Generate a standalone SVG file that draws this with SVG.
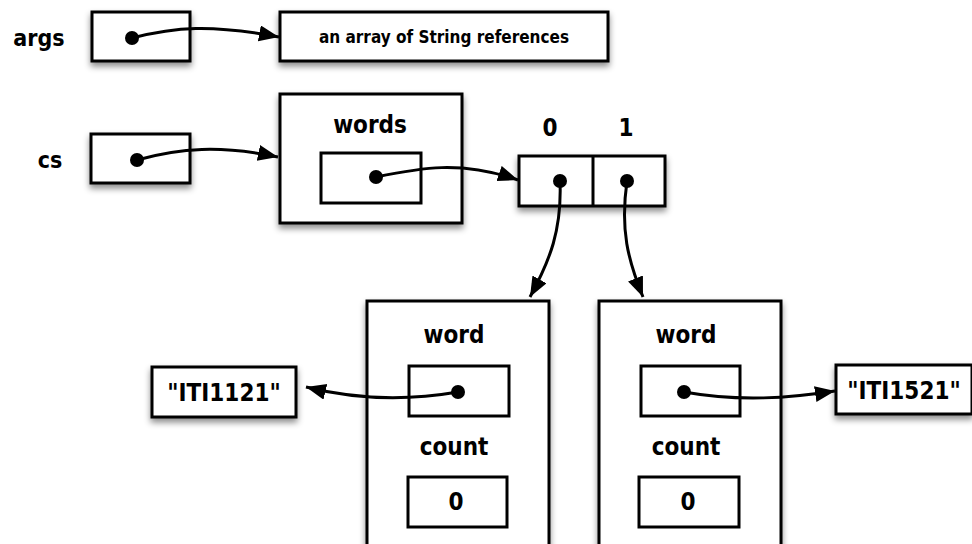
<svg xmlns="http://www.w3.org/2000/svg" width="972" height="544" viewBox="0 0 972 544">
<defs>
<filter id="sh" x="-20%" y="-20%" width="140%" height="150%">
<feDropShadow dx="0" dy="4" stdDeviation="3" flood-color="#000" flood-opacity="0.45"/>
</filter>
<marker id="ah" markerUnits="userSpaceOnUse" markerWidth="22" markerHeight="18" refX="20" refY="8" orient="auto">
<path d="M0,0 L20,8 L0,16 z" fill="#000"/>
</marker>
<style>
.box{fill:#fff;stroke:#000;stroke-width:3}
.sbox{fill:#fff;stroke:#000;stroke-width:3;filter:url(#sh)}
.t{font-family:"DejaVu Sans Condensed","DejaVu Sans",sans-serif;font-weight:bold;fill:#000;text-anchor:middle}
.big{font-size:24px}
.med{font-size:23px}
.sm{font-size:17px}
.c{fill:none;stroke:#000;stroke-width:3;marker-end:url(#ah)}
.dot{fill:#000}
</style>
</defs>
<g id="args">
<text class="t med" x="39" y="46">args</text>
<rect class="sbox" x="92" y="12" width="98" height="49"/>
<circle class="dot" cx="132" cy="38" r="7"/>
</g>
<g id="stringArray">
<rect class="sbox" x="280" y="12" width="328" height="49"/>
<text class="t sm" x="444" y="43">an array of String references</text>
</g>
<g id="cs">
<text class="t med" x="50" y="168">cs</text>
<rect class="sbox" x="91" y="134" width="99" height="49"/>
<circle class="dot" cx="137" cy="160" r="7"/>
</g>
<g id="wordsObj">
<rect class="sbox" x="280" y="94" width="182" height="129"/>
<text class="t big" x="370" y="133">words</text>
<rect class="box" x="321" y="153" width="100" height="50"/>
<circle class="dot" cx="376" cy="177" r="7"/>
</g>
<g id="array">
<text class="t big" x="550" y="136">0</text>
<text class="t big" x="626" y="136">1</text>
<rect class="sbox" x="519" y="156" width="146" height="50"/>
<line x1="593" y1="156" x2="593" y2="206" stroke="#000" stroke-width="3"/>
<circle class="dot" cx="560" cy="181" r="7"/>
<circle class="dot" cx="627" cy="181" r="7"/>
</g>
<g id="obj0">
<rect class="sbox" x="367" y="301" width="182" height="260"/>
<text class="t big" x="454" y="343">word</text>
<rect class="box" x="409" y="366" width="100" height="50"/>
<circle class="dot" cx="458" cy="392" r="7"/>
<text class="t big" x="454" y="455">count</text>
<rect class="box" x="408" y="477" width="99" height="50"/>
<text class="t big" x="456" y="510">0</text>
</g>
<g id="obj1">
<rect class="sbox" x="599" y="301" width="182" height="260"/>
<text class="t big" x="686" y="343">word</text>
<rect class="box" x="641" y="366" width="99" height="50"/>
<circle class="dot" cx="684" cy="392" r="7"/>
<text class="t big" x="686" y="455">count</text>
<rect class="box" x="639" y="477" width="100" height="50"/>
<text class="t big" x="688" y="510">0</text>
</g>
<g id="str0">
<rect class="sbox" x="152" y="367" width="144" height="50"/>
<text class="t big" x="224" y="401">"ITI1121"</text>
</g>
<g id="str1">
<rect class="sbox" x="836" y="365" width="136" height="49"/>
<text class="t big" x="904" y="399">"ITI1521"</text>
</g>
<g id="connectors">
<path class="c" d="M132,38 C175,27 210,24 279,37"/>
<path class="c" d="M137,160 C180,148 220,145 278,157"/>
<path class="c" d="M376,177 C420,168 460,160 518,180"/>
<path class="c" d="M560,181 C562,230 550,260 530,297"/>
<path class="c" d="M627,181 C620,230 628,260 643,297"/>
<path class="c" d="M458,392 C400,402 350,398 306,387"/>
<path class="c" d="M684,392 C740,402 790,398 835,391"/>
</g>
</svg>
